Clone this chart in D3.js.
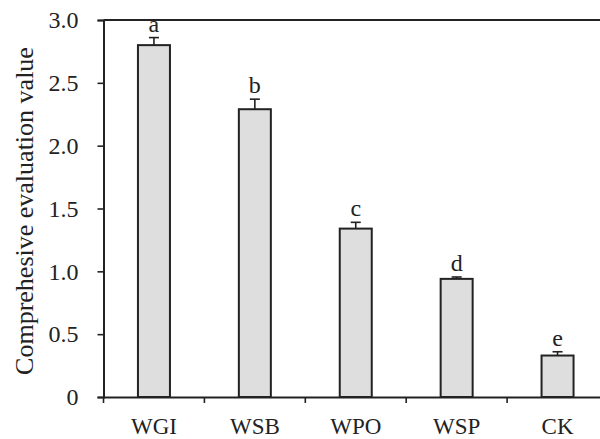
<!DOCTYPE html>
<html>
<head>
<meta charset="utf-8">
<script src="https://cdn.jsdelivr.net/npm/d3@7"></script>
<style>
  body { margin: 0; background: #fff; }
  svg { display: block; }
</style>
</head>
<body>
<div id="chart"></div>
<script>
// data
const groups = ['WGI', 'WSB', 'WPO', 'WSP', 'CK'];
const values = [2.80, 2.29, 1.34, 0.94, 0.33];
const errors = [0.06, 0.08, 0.05, 0.015, 0.03];
const letters = ['a', 'b', 'c', 'd', 'e'];
const yTicks = [0, 0.5, 1.0, 1.5, 2.0, 2.5, 3.0];

const serif = '"Liberation Serif", "Times New Roman", serif';
const ink = '#222';

const width = 600, height = 439;
const margin = { top: 20, right: -8, bottom: 42, left: 103.5 };
const innerW = width - margin.left - margin.right;
const innerH = height - margin.top - margin.bottom;

const svg = d3.select('#chart').append('svg')
  .attr('width', width)
  .attr('height', height);

const plot = svg.append('g')
  .attr('transform', `translate(${margin.left},${margin.top})`);

const x = d3.scaleBand().domain(groups).range([0, innerW]);
const y = d3.scaleLinear().domain([0, 3]).range([innerH, 0]);
const barW = 32;

// top frame line
plot.append('line')
  .attr('x1', 0).attr('x2', innerW)
  .attr('y1', y(3)).attr('y2', y(3))
  .attr('stroke', ink).attr('stroke-width', 2);

// bars
plot.selectAll('.bar')
  .data(groups)
  .enter().append('rect')
    .attr('class', 'bar')
    .attr('x', d => x(d) + x.bandwidth() / 2 - barW / 2)
    .attr('y', (d, i) => y(values[i]))
    .attr('width', barW)
    .attr('height', (d, i) => y(0) - y(values[i]))
    .attr('fill', '#dedede')
    .attr('stroke', ink)
    .attr('stroke-width', 2);

// error bars (upper half only)
const err = plot.selectAll('.err')
  .data(groups)
  .enter().append('g')
    .attr('class', 'err')
    .attr('transform', d => `translate(${x(d) + x.bandwidth() / 2},0)`);

err.append('line')
  .attr('x1', 0).attr('x2', 0)
  .attr('y1', (d, i) => y(values[i]))
  .attr('y2', (d, i) => y(values[i] + errors[i]))
  .attr('stroke', ink).attr('stroke-width', 1.6);

err.append('line')
  .attr('x1', -5).attr('x2', 5)
  .attr('y1', (d, i) => y(values[i] + errors[i]))
  .attr('y2', (d, i) => y(values[i] + errors[i]))
  .attr('stroke', ink).attr('stroke-width', 1.6);

// significance letters
err.append('text')
  .attr('y', (d, i) => y(values[i] + errors[i]) - 6)
  .attr('text-anchor', 'middle')
  .style('font-family', serif)
  .style('font-size', '24px')
  .style('fill', ink)
  .text((d, i) => letters[i]);

// axes
const yAxis = d3.axisLeft(y)
  .tickValues(yTicks)
  .tickSize(6)
  .tickFormat(d => d === 0 ? '0' : d3.format('.1f')(d));

const gy = plot.append('g')
  .attr('class', 'y axis')
  .call(yAxis);
gy.select('.domain').attr('stroke', ink).attr('stroke-width', 2);
gy.selectAll('.tick line').attr('stroke', ink).attr('stroke-width', 1.6);
gy.selectAll('.tick text')
  .attr('x', -25)
  .style('font-family', serif)
  .style('font-size', '24px')
  .style('fill', ink);

const xAxis = d3.axisBottom(x).tickSize(0);
const gx = plot.append('g')
  .attr('class', 'x axis')
  .attr('transform', `translate(0,${innerH})`)
  .call(xAxis);
gx.select('.domain').attr('stroke', ink).attr('stroke-width', 2);
gx.selectAll('.tick text')
  .attr('y', 37)
  .attr('dy', 0)
  .style('font-family', serif)
  .style('font-size', '23px')
  .style('fill', ink);

// x tick marks between the groups
gx.selectAll('.sep')
  .data(groups)
  .enter().append('line')
    .attr('class', 'sep')
    .attr('x1', d => x(d)).attr('x2', d => x(d))
    .attr('y1', 0).attr('y2', 6)
    .attr('stroke', ink).attr('stroke-width', 1.6);

// y title
svg.append('text')
  .attr('transform', `translate(33,${(55 + 367) / 2}) rotate(-90)`)
  .attr('text-anchor', 'middle')
  .style('font-family', serif)
  .style('font-size', '26px')
  .style('fill', ink)
  .text('Comprehesive evaluation value');
</script>
</body>
</html>
